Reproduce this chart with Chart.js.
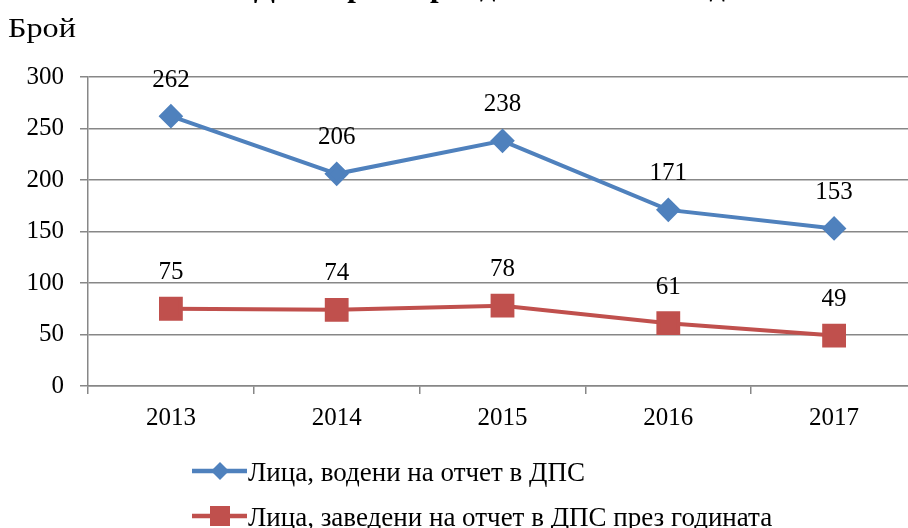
<!DOCTYPE html>
<html>
<head>
<meta charset="utf-8">
<script src="https://cdn.jsdelivr.net/npm/chart.js@4.4.0/dist/chart.umd.min.js"></script>
<style>
  html, body { margin: 0; padding: 0; background: #fff; overflow: hidden; }
  #wrap { width: 935px; height: 528px; }
</style>
</head>
<body>
<div id="wrap"><canvas id="chart" width="935" height="528"></canvas></div>
<script>
// Данные графика
const years = ['2013', '2014', '2015', '2016', '2017'];
const registered = [262, 206, 238, 171, 153];
const newThisYear = [75, 74, 78, 61, 49];
const seriesNames = ['Лица, водени на отчет в ДПС', 'Лица, заведени на отчет в ДПС през годината'];
const yTicks = [0, 50, 100, 150, 200, 250, 300];

const FONT = '"Liberation Serif", "Times New Roman", serif';
const GRID = '#878787';

// Подписи над точките, заглавие, "Брой" и легенда
const extras = {
    id: 'extras',
    afterDatasetsDraw(chart) {
        const ctx = chart.ctx;
        ctx.save();
        ctx.fillStyle = '#000';
        ctx.font = '25px ' + FONT;
        ctx.textAlign = 'center';
        ctx.textBaseline = 'middle';
        chart.data.datasets.forEach((ds, i) => {
            chart.getDatasetMeta(i).data.forEach((pt, j) => {
                ctx.fillText(String(ds.data[j]), pt.x, pt.y - 36);
            });
        });

        // заглавието е отрязано отгоре
        ctx.font = 'bold 31px ' + FONT;
        ctx.textBaseline = 'alphabetic';
        ctx.fillText('ДПС през периода 2013 – 2017 година', 515, -4);

        // надпис на оста
        ctx.save();
        ctx.translate(8, 37);
        ctx.scale(1.15, 1);
        ctx.font = '28px ' + FONT;
        ctx.textAlign = 'left';
        ctx.fillText('Брой', 0, 0);
        ctx.restore();

        // легенда
        const rows = [471, 516];
        chart.data.datasets.forEach((ds, i) => {
            const y = rows[i];
            ctx.strokeStyle = ds.borderColor;
            ctx.lineWidth = 4.5;
            ctx.beginPath();
            ctx.moveTo(192, y);
            ctx.lineTo(247, y);
            ctx.stroke();
            ctx.fillStyle = ds.borderColor;
            ctx.beginPath();
            if (i === 0) {
                ctx.moveTo(220, y - 9);
                ctx.lineTo(229, y);
                ctx.lineTo(220, y + 9);
                ctx.lineTo(211, y);
                ctx.closePath();
            } else {
                ctx.rect(210, y - 10, 20, 20);
            }
            ctx.fill();
            ctx.fillStyle = '#000';
            ctx.font = '27px ' + FONT;
            ctx.textAlign = 'left';
            ctx.textBaseline = 'alphabetic';
            ctx.fillText(seriesNames[i], 248, y + 10);
        });
        ctx.restore();
    }
};

new Chart(document.getElementById('chart'), {
    type: 'line',
    data: {
        labels: years,
        datasets: [
            {
                label: seriesNames[0],
                data: registered,
                borderColor: '#4F81BD',
                backgroundColor: '#4F81BD',
                borderWidth: 4,
                pointStyle: 'rectRot',
                pointRadius: 9.5,
                pointHoverRadius: 9.5,
                tension: 0
            },
            {
                label: seriesNames[1],
                data: newThisYear,
                borderColor: '#C0504D',
                backgroundColor: '#C0504D',
                borderWidth: 4,
                pointStyle: 'rect',
                pointRadius: 14,
                pointHoverRadius: 14,
                tension: 0
            }
        ]
    },
    options: {
        responsive: false,
        animation: false,
        layout: { padding: { top: 77, right: 2, left: 0, bottom: 0 } },
        plugins: {
            legend: { display: false },
            tooltip: { enabled: false }
        },
        scales: {
            x: {
                offset: true,
                grid: {
                    display: true,
                    drawOnChartArea: false,
                    drawTicks: true,
                    tickLength: 8,
                    offset: true,
                    color: GRID,
                    lineWidth: 1.5
                },
                border: { display: true, color: GRID, width: 1.5 },
                ticks: {
                    color: '#000',
                    font: { family: FONT, size: 25 },
                    padding: 9,
                    maxRotation: 0
                },
                afterFit(scale) { scale.height = 142; }
            },
            y: {
                min: 0,
                max: 300,
                afterBuildTicks(scale) { scale.ticks = yTicks.map(v => ({ value: v })); },
                grid: {
                    color: GRID,
                    lineWidth: 1.5,
                    drawTicks: true,
                    tickLength: 8
                },
                border: { display: true, color: GRID, width: 1.5 },
                ticks: {
                    color: '#000',
                    font: { family: FONT, size: 25 },
                    padding: 16
                },
                afterFit(scale) { scale.width = 88; }
            }
        }
    },
    plugins: [extras]
});
</script>
</body>
</html>
